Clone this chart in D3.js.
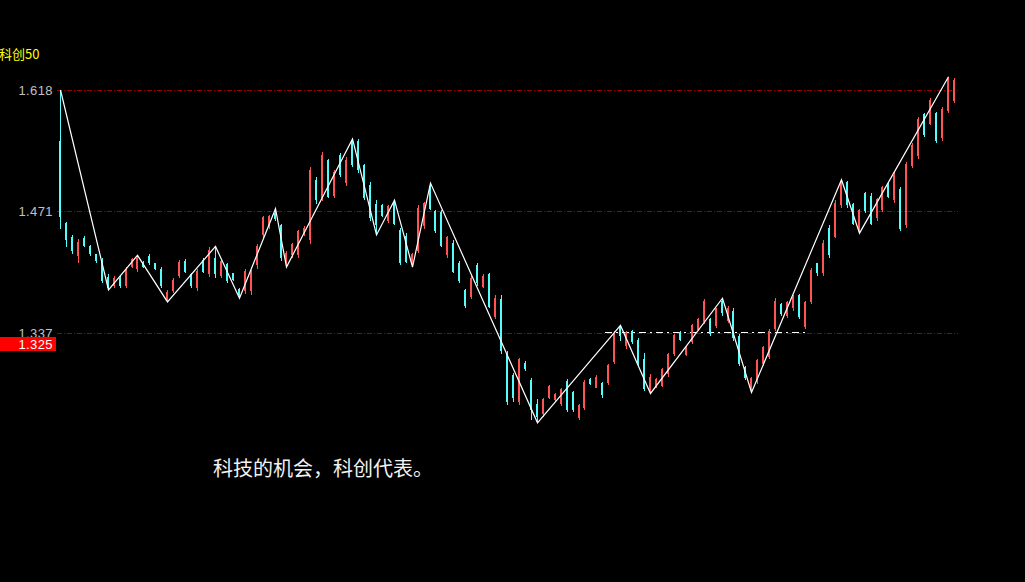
<!DOCTYPE html>
<html><head><meta charset="utf-8">
<script src="https://cdn.jsdelivr.net/npm/d3@7"></script>
<style>html,body{margin:0;padding:0;background:#000;overflow:hidden}svg{display:block}</style>
</head><body><svg id="c" width="1025" height="582"></svg>
<script>
// ---- data ----
const title = "科创50";
const caption = "科技的机会，科创代表。";
const open = [
1.555,1.458,1.442,1.420,1.440,1.432,1.422,1.416,1.397,1.387,
1.396,1.387,1.408,1.406,1.414,1.420,1.412,1.406,1.372,1.382,
1.398,1.415,1.400,1.385,1.416,1.400,1.418,1.398,1.411,1.401,
1.384,1.382,1.382,1.410,1.444,1.454,1.469,1.455,1.413,1.421,
1.421,1.444,1.438,1.508,1.487,1.531,1.489,1.538,1.504,1.554,
1.554,1.525,1.502,1.480,1.478,1.460,1.481,1.450,1.443,1.413,
1.426,1.454,1.500,1.471,1.470,1.421,1.435,1.413,1.383,1.375,
1.410,1.386,1.400,1.354,1.373,1.316,1.294,1.267,1.306,1.289,
1.265,1.255,1.270,1.268,1.265,1.288,1.276,1.251,1.261,1.290,
1.281,1.286,1.286,1.307,1.344,1.323,1.339,1.330,1.310,1.277,
1.281,1.283,1.295,1.315,1.338,1.314,1.328,1.340,1.349,1.352,
1.344,1.371,1.350,1.360,1.334,1.302,1.280,1.287,1.305,1.312,
1.341,1.368,1.355,1.363,1.377,1.343,1.370,1.412,1.401,1.452,
1.442,1.478,1.505,1.480,1.448,1.492,1.489,1.463,1.472,1.502,
1.484,1.497,1.455,1.524,1.536,1.588,1.576,1.589,1.558,1.591,
1.604];
const high = [
1.618,1.459,1.444,1.439,1.443,1.433,1.423,1.418,1.400,1.398,
1.398,1.408,1.418,1.421,1.415,1.422,1.413,1.408,1.383,1.396,
1.416,1.417,1.401,1.406,1.418,1.430,1.431,1.417,1.413,1.402,
1.385,1.406,1.405,1.434,1.466,1.467,1.474,1.457,1.426,1.435,
1.450,1.454,1.523,1.511,1.541,1.533,1.519,1.540,1.535,1.557,
1.557,1.527,1.505,1.484,1.480,1.478,1.484,1.452,1.446,1.424,
1.478,1.482,1.504,1.472,1.472,1.443,1.438,1.415,1.384,1.398,
1.412,1.400,1.402,1.377,1.377,1.318,1.296,1.311,1.308,1.291,
1.269,1.270,1.284,1.275,1.280,1.290,1.277,1.265,1.289,1.291,
1.294,1.287,1.305,1.339,1.345,1.339,1.340,1.332,1.316,1.295,
1.291,1.301,1.316,1.336,1.339,1.323,1.347,1.353,1.373,1.353,
1.364,1.374,1.366,1.363,1.336,1.303,1.292,1.310,1.323,1.341,
1.374,1.369,1.371,1.377,1.379,1.371,1.407,1.413,1.438,1.455,
1.484,1.508,1.507,1.481,1.474,1.493,1.492,1.486,1.501,1.504,
1.517,1.499,1.529,1.552,1.584,1.589,1.608,1.590,1.596,1.635,
1.633];
const low = [
1.451,1.430,1.422,1.412,1.430,1.420,1.413,1.390,1.383,1.385,
1.385,1.385,1.407,1.403,1.407,1.410,1.405,1.385,1.370,1.380,
1.396,1.401,1.385,1.382,1.401,1.397,1.396,1.396,1.390,1.393,
1.374,1.379,1.377,1.406,1.441,1.451,1.460,1.415,1.408,1.418,
1.418,1.443,1.434,1.480,1.483,1.486,1.487,1.511,1.501,1.523,
1.516,1.484,1.460,1.444,1.464,1.458,1.455,1.410,1.412,1.408,
1.424,1.451,1.472,1.446,1.430,1.418,1.401,1.391,1.364,1.373,
1.387,1.385,1.363,1.352,1.315,1.264,1.267,1.264,1.298,1.249,
1.246,1.252,1.269,1.267,1.263,1.257,1.257,1.249,1.259,1.284,
1.280,1.270,1.284,1.305,1.329,1.320,1.326,1.303,1.277,1.275,
1.280,1.282,1.292,1.313,1.329,1.313,1.326,1.339,1.347,1.334,
1.342,1.355,1.348,1.329,1.303,1.289,1.276,1.285,1.303,1.310,
1.339,1.355,1.353,1.360,1.352,1.341,1.368,1.398,1.398,1.418,
1.440,1.475,1.475,1.455,1.446,1.469,1.455,1.460,1.470,1.487,
1.481,1.449,1.452,1.522,1.533,1.559,1.574,1.552,1.555,1.589,
1.601];
const close = [
1.464,1.438,1.426,1.436,1.432,1.422,1.415,1.393,1.385,1.396,
1.387,1.406,1.417,1.418,1.408,1.412,1.406,1.387,1.381,1.394,
1.414,1.403,1.387,1.404,1.403,1.427,1.400,1.415,1.393,1.394,
1.378,1.404,1.403,1.432,1.464,1.466,1.462,1.418,1.424,1.434,
1.448,1.452,1.520,1.484,1.538,1.488,1.517,1.513,1.532,1.525,
1.519,1.486,1.463,1.455,1.466,1.477,1.457,1.413,1.414,1.423,
1.475,1.481,1.474,1.448,1.432,1.442,1.403,1.393,1.366,1.396,
1.390,1.398,1.365,1.374,1.318,1.267,1.270,1.310,1.300,1.259,
1.252,1.269,1.283,1.274,1.279,1.259,1.259,1.264,1.287,1.285,
1.292,1.273,1.304,1.336,1.334,1.338,1.328,1.306,1.279,1.292,
1.290,1.300,1.315,1.335,1.330,1.322,1.345,1.352,1.371,1.336,
1.363,1.358,1.364,1.332,1.305,1.291,1.291,1.309,1.322,1.339,
1.371,1.357,1.370,1.375,1.354,1.370,1.405,1.401,1.435,1.421,
1.481,1.506,1.478,1.457,1.472,1.471,1.457,1.485,1.499,1.488,
1.514,1.451,1.527,1.550,1.581,1.562,1.605,1.554,1.594,1.632,
1.631];
// zigzag pivots (bar index, price)
const zigIdx = [0,8,13,18,26,30,36,38,49,53,56,59,62,80,94,99,111,116,131,134,149];
const zigVal = [1.618,1.383,1.421,1.370,1.431,1.374,1.474,1.408,1.557,1.444,1.484,1.408,1.504,1.246,1.345,1.275,1.374,1.276,1.508,1.446,1.635];
// golden-section levels and axis labels
const levels = [1.618, 1.471, 1.337];
const levelLabels = ["1.618", "1.471", "1.337"];
const currentPrice = 1.325;
const currentLabel = "1.325";
// support line (bar index range, price)
const supportFrom = 91.5, supportTo = 125.5, supportVal = 1.337;

// ---- drawing ----
const svg = d3.select("#c");
svg.append("rect").attr("width",1025).attr("height",582).attr("fill","#000");
const n = open.length;
const x = d3.scaleLinear().domain([0, n-1]).range([60, 954]);
const y = d3.scaleLog().domain([1.337, 1.618]).range([333, 90]);
const UP = "#ff5454", DOWN = "#54fcfc";
const labelFont = "'Liberation Sans', Arial, sans-serif";

// level lines
svg.append("g").attr("shape-rendering", "crispEdges").selectAll("line").data(levels).join("line")
  .attr("x1", 57).attr("x2", 958)
  .attr("y1", d => Math.round(y(d)) + 0.5).attr("y2", d => Math.round(y(d)) + 0.5)
  .attr("stroke", "#a00000").attr("stroke-width", 1)
  .attr("stroke-dasharray", "5,2,1,2");

// support dash-dot
svg.append("line").attr("shape-rendering", "crispEdges")
  .attr("x1", x(supportFrom)).attr("x2", x(supportTo))
  .attr("y1", Math.round(y(supportVal)) - 0.5).attr("y2", Math.round(y(supportVal)) - 0.5)
  .attr("stroke", "#ffffff").attr("stroke-width", 1)
  .attr("stroke-dasharray", "7,4,2,4");

// candles
const bars = d3.range(n).map(i => ({i, o: open[i], h: high[i], l: low[i], c: close[i]}));
const g = svg.append("g").attr("shape-rendering", "crispEdges");
g.selectAll("line.w").data(bars).join("line").attr("class","w")
  .attr("x1", d => Math.round(x(d.i)) + 0.5).attr("x2", d => Math.round(x(d.i)) + 0.5)
  .attr("y1", d => y(d.h)).attr("y2", d => y(d.l))
  .attr("stroke", d => d.c >= d.o ? UP : DOWN).attr("stroke-width", 1);
g.selectAll("rect.b").data(bars).join("rect").attr("class","b")
  .attr("x", d => Math.round(x(d.i)) - 1).attr("width", 2)
  .attr("y", d => y(Math.max(d.o, d.c)))
  .attr("height", d => Math.max(1, y(Math.min(d.o, d.c)) - y(Math.max(d.o, d.c))))
  .attr("fill", d => d.c >= d.o ? UP : DOWN);

// zigzag
const zz = zigIdx.map((k, j) => [k, zigVal[j]]);
svg.append("path").datum(zz)
  .attr("d", d3.line().x(d => Math.round(x(d[0])) + 0.5).y(d => y(d[1])))
  .attr("fill", "none").attr("stroke", "#ffffff").attr("stroke-width", 1.2);

// axis labels
svg.append("g").selectAll("text").data(levels).join("text")
  .attr("x", 53).attr("y", d => y(d) + 5)
  .attr("text-anchor", "end")
  .attr("font-family", labelFont).attr("letter-spacing", "0.4px")
  .attr("font-size", "13px").attr("fill", "#c0c0c0")
  .text((d, i) => levelLabels[i]);

// current price tag
const yc = y(currentPrice);
svg.append("rect").attr("x", 0).attr("y", Math.round(yc) - 7).attr("width", 56).attr("height", 14).attr("fill", "#ff0000");
svg.append("text").attr("x", 53).attr("y", yc + 5).attr("text-anchor", "end")
  .attr("font-family", labelFont).attr("letter-spacing", "0.4px")
  .attr("font-size", "13px").attr("fill", "#ffffff").text(currentLabel);

// title
svg.append("text").attr("x", -1).attr("y", 59)
  .attr("font-family", "'Noto Sans CJK SC', sans-serif").attr("font-size", "13px")
  .attr("fill", "#ffff00").text(title);

// caption
svg.append("text").attr("x", 213).attr("y", 476)
  .attr("font-family", "'Noto Sans CJK SC', sans-serif").attr("font-size", "20px")
  .attr("fill", "#f2f2f2").text(caption);
</script></body></html>
